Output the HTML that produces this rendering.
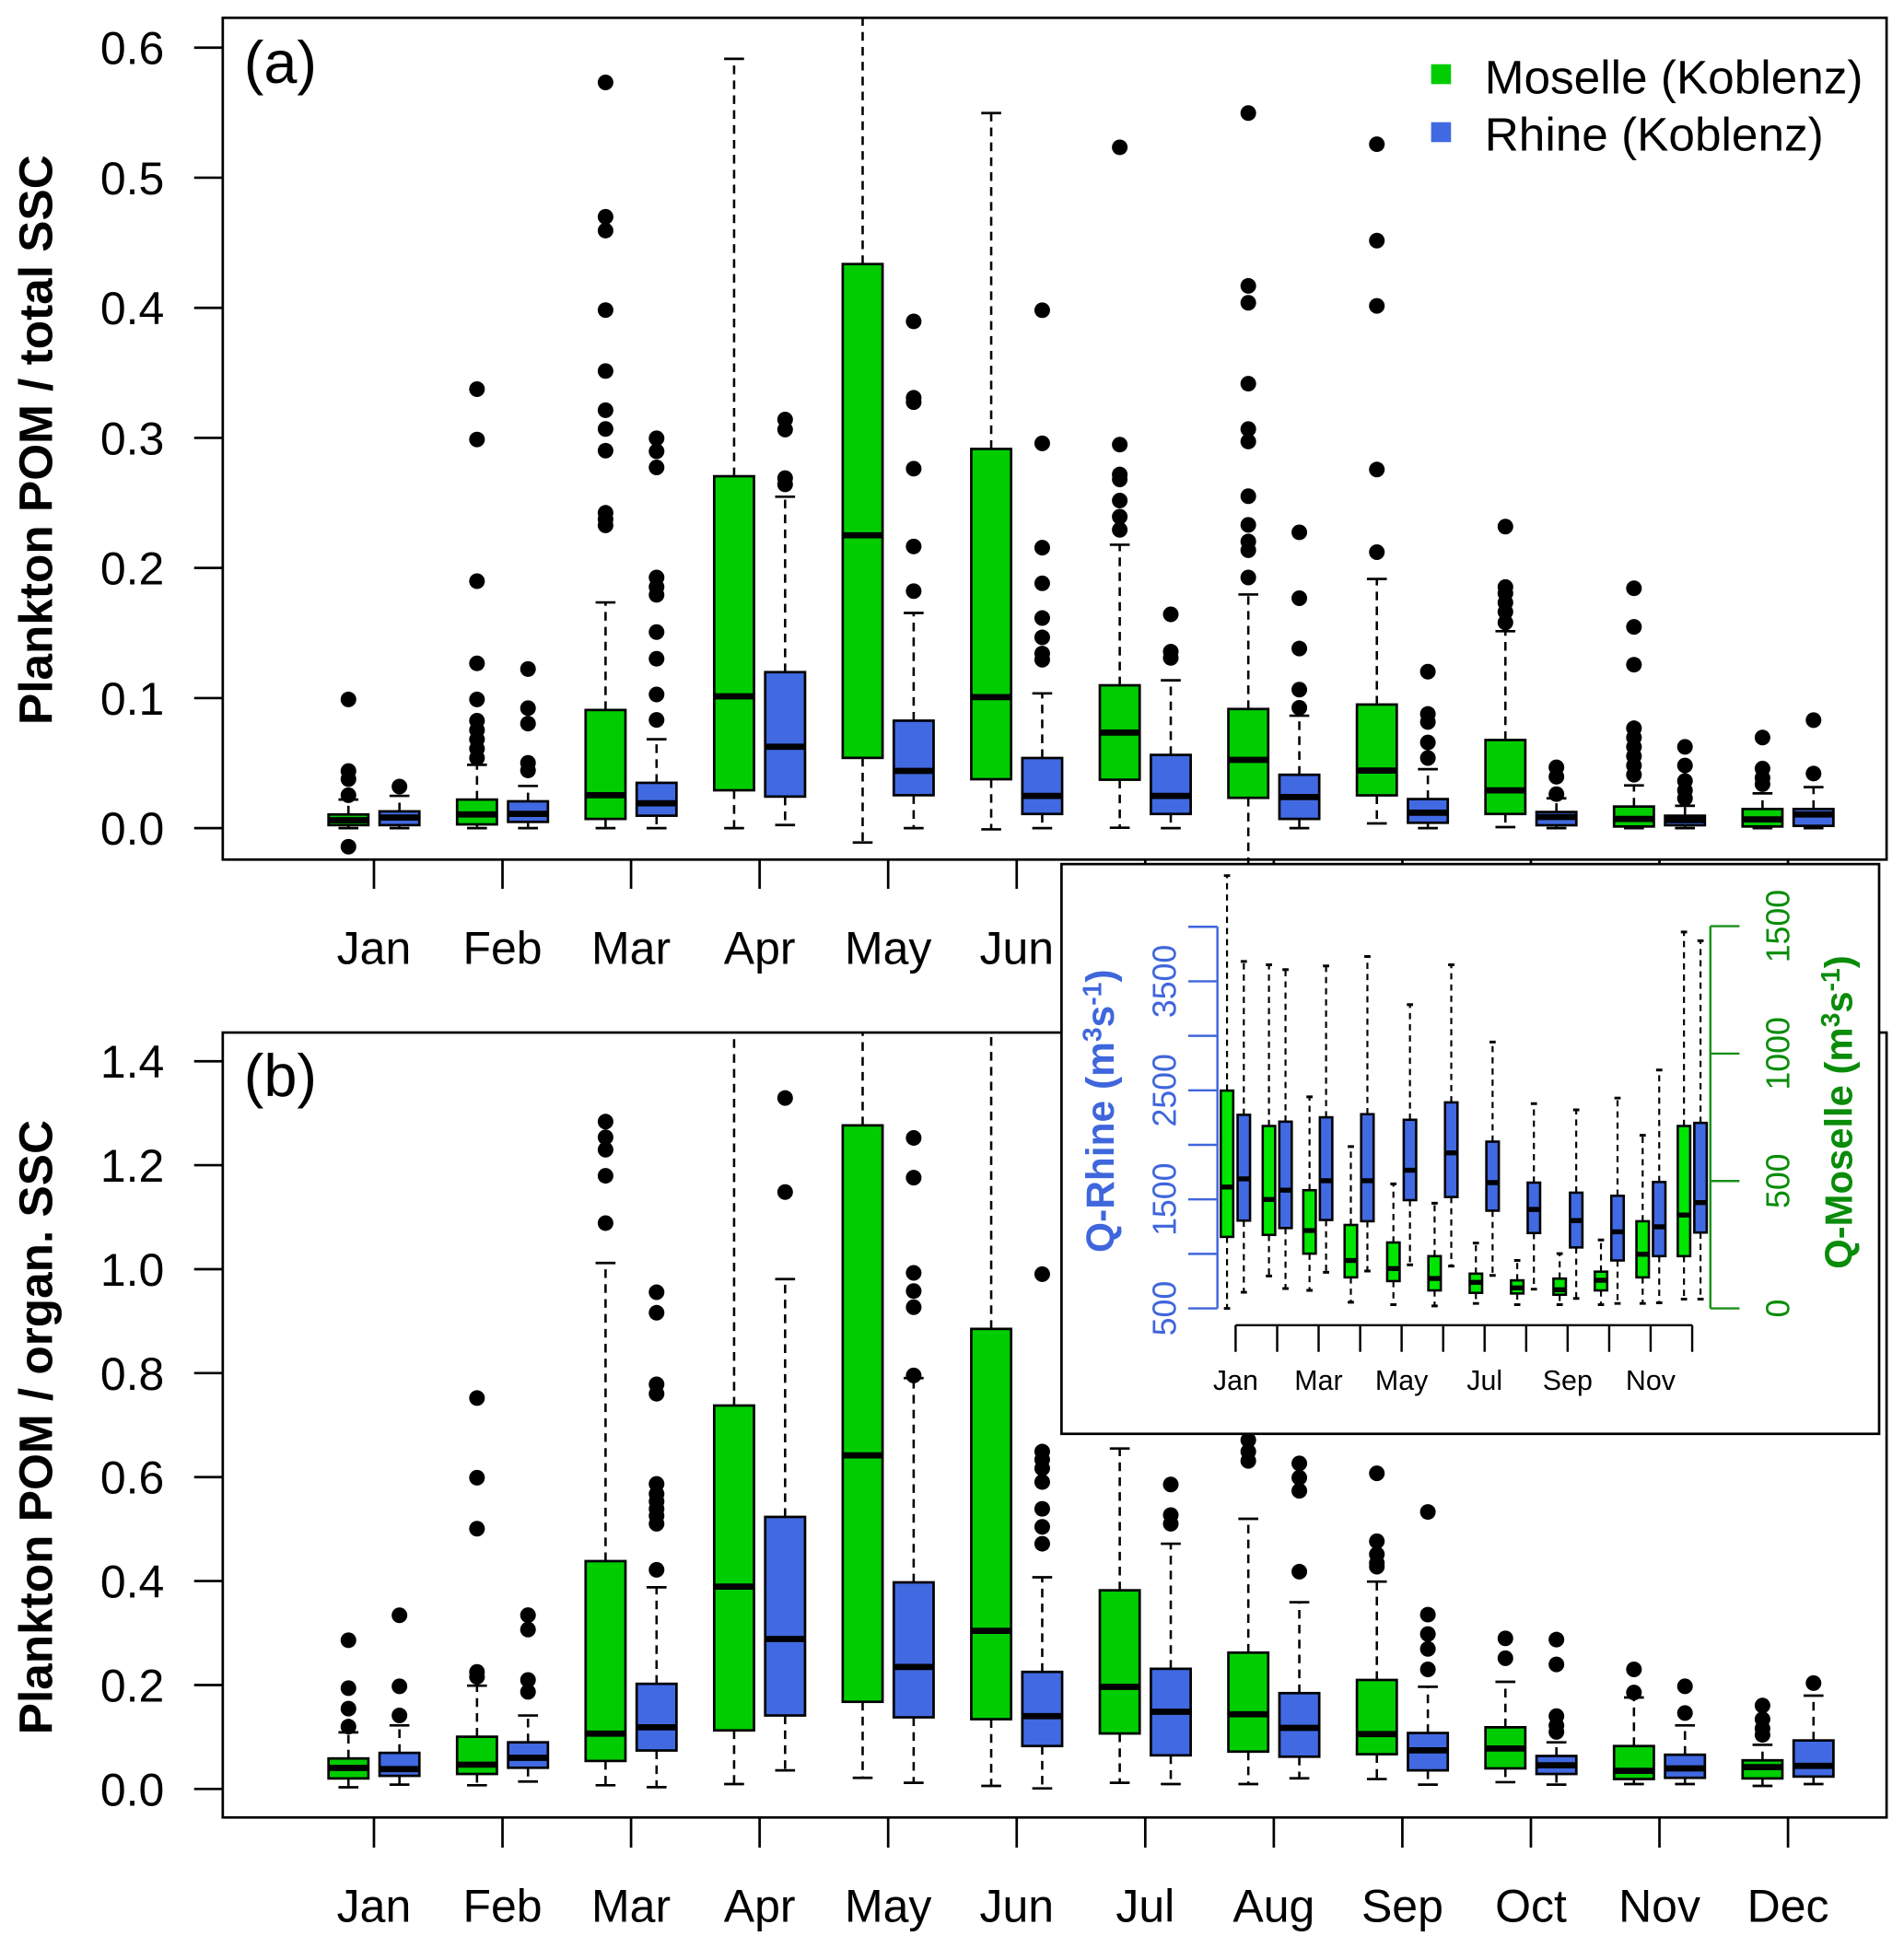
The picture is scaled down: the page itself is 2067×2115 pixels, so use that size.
<!DOCTYPE html>
<html><head><meta charset="utf-8"><style>
html,body{margin:0;padding:0;background:#fff}
svg{display:block}
text{font-family:"Liberation Sans",Arial,sans-serif}
.w{stroke:#000;stroke-width:1.9;stroke-dasharray:7 5;fill:none}
.c{stroke:#000;stroke-width:2;fill:none}
.g{fill:#00CD00;stroke:#000;stroke-width:2}
.b{fill:#4169E1;stroke:#000;stroke-width:2}
.m{stroke:#000;stroke-width:5;fill:none}
.iw{stroke:#000;stroke-width:1.6;stroke-dasharray:5 4;fill:none}
.ic{stroke:#000;stroke-width:2.2;fill:none}
.ig{fill:#00E600;stroke:#000;stroke-width:1.9}
.ib{fill:#4169E1;stroke:#000;stroke-width:1.9}
.im{stroke:#000;stroke-width:4;fill:none}
.ax{stroke:#000;stroke-width:2;fill:none}
</style></head><body>
<svg width="2067" height="2115" viewBox="0 0 1530 1565.5" xmlns="http://www.w3.org/2000/svg">
<rect x="0" y="0" width="1530" height="1565.5" fill="#fff"/>

<!-- ================= PANEL A ================= -->
<rect x="179" y="14.3" width="1337" height="676.5" fill="none" stroke="#000" stroke-width="2"/>
<path class="ax" d="M156 665.5H179M156 561H179M156 456.4H179M156 351.9H179M156 247.4H179M156 142.8H179M156 38.3H179"/>
<g font-size="37" text-anchor="end" fill="#000">
<text x="132" y="678.8">0.0</text><text x="132" y="574.3">0.1</text><text x="132" y="469.7">0.2</text><text x="132" y="365.2">0.3</text><text x="132" y="260.7">0.4</text><text x="132" y="156.1">0.5</text><text x="132" y="51.6">0.6</text>
</g>
<path class="ax" d="M300.5 690.8V714.3M403.8 690.8V714.3M507.1 690.8V714.3M610.4 690.8V714.3M713.7 690.8V714.3M817 690.8V714.3M920.3 690.8V714.3M1023.6 690.8V714.3M1126.9 690.8V714.3M1230.2 690.8V714.3M1333.5 690.8V714.3M1436.8 690.8V714.3"/>
<g font-size="37" text-anchor="middle" fill="#000">
<text x="300.5" y="774.7">Jan</text><text x="403.8" y="774.7">Feb</text><text x="507.1" y="774.7">Mar</text><text x="610.4" y="774.7">Apr</text><text x="713.7" y="774.7">May</text><text x="817" y="774.7">Jun</text><text x="920.3" y="774.7">Jul</text><text x="1023.6" y="774.7">Aug</text><text x="1126.9" y="774.7">Sep</text><text x="1230.2" y="774.7">Oct</text><text x="1333.5" y="774.7">Nov</text><text x="1436.8" y="774.7">Dec</text>
</g>
<text transform="translate(42,353.5) rotate(-90)" text-anchor="middle" font-size="38" font-weight="bold">Plankton POM / total SSC</text>
<text x="196" y="66.6" font-size="48">(a)</text>

<!-- legend -->
<rect x="1150" y="51.6" width="16" height="16" fill="#00CD00"/>
<rect x="1150" y="98.2" width="16" height="16" fill="#4169E1"/>
<text x="1193" y="75" font-size="38">Moselle (Koblenz)</text>
<text x="1193" y="121" font-size="38">Rhine (Koblenz)</text>

<g transform="matrix(1 0 0 0.99714 0 0.41)">
<path class="w" d="M280 656V644M280 664.6V667
M321 653.5V641M321 664.6V667
M383.3 644V616M383.3 664V667
M424.3 645.4V633M424.3 662V667
M486.6 571.8V485.1M486.6 659.6V667
M527.6 630.5V595.4M527.6 657V667
M589.9 383.4V47M589.9 636.5V667
M630.9 541.3V399.9M630.9 641.6V664.5
M693.2 212.4V14M693.2 610.4V678.6
M734.2 580.4V493.6M734.2 640.5V667
M796.5 361.4V90.7M796.5 627.6V668
M837.5 610.5V558.4M837.5 655.6V667
M899.8 551.9V438.6M899.8 628V666.7
M940.8 608V547.9M940.8 655.6V667
M1003.1 571V478.7M1003.1 642.6V697
M1044.1 624V576.4M1044.1 659.6V667
M1106.4 567.4V466.2M1106.4 640.6V663.2
M1147.4 643.6V619.5M1147.4 662.7V667
M1209.7 596V508.3M1209.7 655.6V666.2
M1250.7 654V643M1250.7 664.7V667
M1313 649.6V632.6M1313 665.7V667
M1354 657V649M1354 664.7V667
M1416.3 651.6V639M1416.3 665.7V667
M1457.3 651.6V634M1457.3 665.2V667"/>
<path class="c" d="M272 644h16M272 667h16M313 641h16M313 667h16M375.3 616h16M375.3 667h16M416.3 633h16M416.3 667h16M478.6 485.1h16M478.6 667h16M519.6 595.4h16M519.6 667h16M581.9 47h16M581.9 667h16M622.9 399.9h16M622.9 664.5h16M685.2 678.6h16M726.2 493.6h16M726.2 667h16M788.5 90.7h16M788.5 668h16M829.5 558.4h16M829.5 667h16M891.8 438.6h16M891.8 666.7h16M932.8 547.9h16M932.8 667h16M995.1 478.7h16M1036.1 576.4h16M1036.1 667h16M1098.4 466.2h16M1098.4 663.2h16M1139.4 619.5h16M1139.4 667h16M1201.7 508.3h16M1201.7 666.2h16M1242.7 643h16M1242.7 667h16M1305 632.6h16M1305 667h16M1346 649h16M1346 667h16M1408.3 639h16M1408.3 667h16M1449.3 634h16M1449.3 667h16"/>
<rect class="g" x="264" y="656" width="32" height="8.6"/>
<rect class="b" x="305" y="653.5" width="32" height="11.1"/>
<rect class="g" x="367.3" y="644" width="32" height="20"/>
<rect class="b" x="408.3" y="645.4" width="32" height="16.6"/>
<rect class="g" x="470.6" y="571.8" width="32" height="87.8"/>
<rect class="b" x="511.6" y="630.5" width="32" height="26.5"/>
<rect class="g" x="573.9" y="383.4" width="32" height="253.1"/>
<rect class="b" x="614.9" y="541.3" width="32" height="100.3"/>
<rect class="g" x="677.2" y="212.4" width="32" height="398"/>
<rect class="b" x="718.2" y="580.4" width="32" height="60.1"/>
<rect class="g" x="780.5" y="361.4" width="32" height="266.2"/>
<rect class="b" x="821.5" y="610.5" width="32" height="45.1"/>
<rect class="g" x="883.8" y="551.9" width="32" height="76.1"/>
<rect class="b" x="924.8" y="608" width="32" height="47.6"/>
<rect class="g" x="987.1" y="571" width="32" height="71.6"/>
<rect class="b" x="1028.1" y="624" width="32" height="35.6"/>
<rect class="g" x="1090.4" y="567.4" width="32" height="73.2"/>
<rect class="b" x="1131.4" y="643.6" width="32" height="19.1"/>
<rect class="g" x="1193.7" y="596" width="32" height="59.6"/>
<rect class="b" x="1234.7" y="654" width="32" height="10.7"/>
<rect class="g" x="1297" y="649.6" width="32" height="16.1"/>
<rect class="b" x="1338" y="657" width="32" height="7.7"/>
<rect class="g" x="1400.3" y="651.6" width="32" height="14.1"/>
<rect class="b" x="1441.3" y="651.6" width="32" height="13.6"/>
<path class="m" d="M264 660.6h32M305 658.5h32M367.3 656h32M408.3 655.5h32M470.6 640.5h32M511.6 647h32M573.9 560.8h32M614.9 601.4h32M677.2 431h32M718.2 620.9h32M780.5 561.4h32M821.5 641h32M883.8 590h32M924.8 641h32M987.1 612h32M1028.1 642h32M1090.4 620.6h32M1131.4 654.6h32M1193.7 636.6h32M1234.7 658h32M1297 659.6h32M1338 660.5h32M1400.3 660h32M1441.3 656h32"/>
<g fill="#000">
<circle cx="280" cy="563.3" r="6.3"/><circle cx="280" cy="621" r="6.3"/><circle cx="280" cy="627.5" r="6.3"/><circle cx="280" cy="640.5" r="6.3"/><circle cx="280" cy="682" r="6.3"/>
<circle cx="321" cy="633.5" r="6.3"/>
<circle cx="383.3" cy="313.2" r="6.3"/><circle cx="383.3" cy="353.8" r="6.3"/><circle cx="383.3" cy="468" r="6.3"/><circle cx="383.3" cy="534.2" r="6.3"/><circle cx="383.3" cy="563.3" r="6.3"/><circle cx="383.3" cy="580.4" r="6.3"/><circle cx="383.3" cy="588" r="6.3"/><circle cx="383.3" cy="595.5" r="6.3"/><circle cx="383.3" cy="603" r="6.3"/><circle cx="383.3" cy="610.5" r="6.3"/>
<circle cx="424.3" cy="538.8" r="6.3"/><circle cx="424.3" cy="570.3" r="6.3"/><circle cx="424.3" cy="582.8" r="6.3"/><circle cx="424.3" cy="614.4" r="6.3"/><circle cx="424.3" cy="620.5" r="6.3"/>
<circle cx="486.6" cy="66" r="6.3"/><circle cx="486.6" cy="174.3" r="6.3"/><circle cx="486.6" cy="185.4" r="6.3"/><circle cx="486.6" cy="249.5" r="6.3"/><circle cx="486.6" cy="298.6" r="6.3"/><circle cx="486.6" cy="330.2" r="6.3"/><circle cx="486.6" cy="345.3" r="6.3"/><circle cx="486.6" cy="362.8" r="6.3"/><circle cx="486.6" cy="412.9" r="6.3"/><circle cx="486.6" cy="418" r="6.3"/><circle cx="486.6" cy="423" r="6.3"/>
<circle cx="527.6" cy="352.8" r="6.3"/><circle cx="527.6" cy="363.3" r="6.3"/><circle cx="527.6" cy="376.3" r="6.3"/><circle cx="527.6" cy="465" r="6.3"/><circle cx="527.6" cy="472.6" r="6.3"/><circle cx="527.6" cy="479" r="6.3"/><circle cx="527.6" cy="509" r="6.3"/><circle cx="527.6" cy="530.5" r="6.3"/><circle cx="527.6" cy="559.3" r="6.3"/><circle cx="527.6" cy="579.8" r="6.3"/>
<circle cx="630.9" cy="337.7" r="6.3"/><circle cx="630.9" cy="345.8" r="6.3"/><circle cx="630.9" cy="384.9" r="6.3"/><circle cx="630.9" cy="390" r="6.3"/>
<circle cx="734.2" cy="258.6" r="6.3"/><circle cx="734.2" cy="320.2" r="6.3"/><circle cx="734.2" cy="323.7" r="6.3"/><circle cx="734.2" cy="377.3" r="6.3"/><circle cx="734.2" cy="440" r="6.3"/><circle cx="734.2" cy="476" r="6.3"/>
<circle cx="837.5" cy="249.6" r="6.3"/><circle cx="837.5" cy="356.9" r="6.3"/><circle cx="837.5" cy="441" r="6.3"/><circle cx="837.5" cy="469.7" r="6.3"/><circle cx="837.5" cy="497.7" r="6.3"/><circle cx="837.5" cy="513.3" r="6.3"/><circle cx="837.5" cy="526.3" r="6.3"/><circle cx="837.5" cy="531.3" r="6.3"/>
<circle cx="899.8" cy="118.3" r="6.3"/><circle cx="899.8" cy="357.9" r="6.3"/><circle cx="899.8" cy="382" r="6.3"/><circle cx="899.8" cy="386" r="6.3"/><circle cx="899.8" cy="403" r="6.3"/><circle cx="899.8" cy="416" r="6.3"/><circle cx="899.8" cy="426.6" r="6.3"/>
<circle cx="940.8" cy="494.7" r="6.3"/><circle cx="940.8" cy="524.8" r="6.3"/><circle cx="940.8" cy="529.8" r="6.3"/>
<circle cx="1003.1" cy="90.7" r="6.3"/><circle cx="1003.1" cy="230" r="6.3"/><circle cx="1003.1" cy="243.6" r="6.3"/><circle cx="1003.1" cy="308.8" r="6.3"/><circle cx="1003.1" cy="345.4" r="6.3"/><circle cx="1003.1" cy="355.4" r="6.3"/><circle cx="1003.1" cy="399.5" r="6.3"/><circle cx="1003.1" cy="422.6" r="6.3"/><circle cx="1003.1" cy="436" r="6.3"/><circle cx="1003.1" cy="443" r="6.3"/><circle cx="1003.1" cy="465" r="6.3"/>
<circle cx="1044.1" cy="428.6" r="6.3"/><circle cx="1044.1" cy="481.7" r="6.3"/><circle cx="1044.1" cy="522.3" r="6.3"/><circle cx="1044.1" cy="555.4" r="6.3"/><circle cx="1044.1" cy="570" r="6.3"/>
<circle cx="1106.4" cy="115.8" r="6.3"/><circle cx="1106.4" cy="193.5" r="6.3"/><circle cx="1106.4" cy="246.1" r="6.3"/><circle cx="1106.4" cy="378" r="6.3"/><circle cx="1106.4" cy="444.6" r="6.3"/>
<circle cx="1147.4" cy="540.9" r="6.3"/><circle cx="1147.4" cy="575" r="6.3"/><circle cx="1147.4" cy="581.5" r="6.3"/><circle cx="1147.4" cy="598" r="6.3"/><circle cx="1147.4" cy="610.5" r="6.3"/>
<circle cx="1209.7" cy="424" r="6.3"/><circle cx="1209.7" cy="472.7" r="6.3"/><circle cx="1209.7" cy="477.7" r="6.3"/><circle cx="1209.7" cy="485.2" r="6.3"/><circle cx="1209.7" cy="492.7" r="6.3"/><circle cx="1209.7" cy="501.3" r="6.3"/>
<circle cx="1250.7" cy="618" r="6.3"/><circle cx="1250.7" cy="625.6" r="6.3"/><circle cx="1250.7" cy="639.6" r="6.3"/>
<circle cx="1313" cy="473.7" r="6.3"/><circle cx="1313" cy="504.8" r="6.3"/><circle cx="1313" cy="535.3" r="6.3"/><circle cx="1313" cy="586.5" r="6.3"/><circle cx="1313" cy="594" r="6.3"/><circle cx="1313" cy="601.5" r="6.3"/><circle cx="1313" cy="609" r="6.3"/><circle cx="1313" cy="616.5" r="6.3"/><circle cx="1313" cy="624" r="6.3"/>
<circle cx="1354" cy="601.5" r="6.3"/><circle cx="1354" cy="616.5" r="6.3"/><circle cx="1354" cy="629" r="6.3"/><circle cx="1354" cy="636.6" r="6.3"/><circle cx="1354" cy="643" r="6.3"/>
<circle cx="1416.3" cy="594" r="6.3"/><circle cx="1416.3" cy="619" r="6.3"/><circle cx="1416.3" cy="626.6" r="6.3"/><circle cx="1416.3" cy="631.6" r="6.3"/>
<circle cx="1457.3" cy="580" r="6.3"/><circle cx="1457.3" cy="623" r="6.3"/>
</g>
</g>

<!-- ================= PANEL B ================= -->
<rect x="179" y="829.8" width="1337" height="630.8" fill="none" stroke="#000" stroke-width="2"/>
<path class="ax" d="M156 1437.7H179M156 1354.2H179M156 1270.6H179M156 1187.1H179M156 1103.5H179M156 1020H179M156 936.4H179M156 852.9H179"/>
<g font-size="37" text-anchor="end" fill="#000">
<text x="132" y="1451">0.0</text><text x="132" y="1367.5">0.2</text><text x="132" y="1283.9">0.4</text><text x="132" y="1200.4">0.6</text><text x="132" y="1116.8">0.8</text><text x="132" y="1033.3">1.0</text><text x="132" y="949.7">1.2</text><text x="132" y="866.2">1.4</text>
</g>
<path class="ax" d="M300.5 1460.6V1484.8M403.8 1460.6V1484.8M507.1 1460.6V1484.8M610.4 1460.6V1484.8M713.7 1460.6V1484.8M817 1460.6V1484.8M920.3 1460.6V1484.8M1023.6 1460.6V1484.8M1126.9 1460.6V1484.8M1230.2 1460.6V1484.8M1333.5 1460.6V1484.8M1436.8 1460.6V1484.8"/>
<g font-size="37" text-anchor="middle" fill="#000">
<text x="300.5" y="1544.5">Jan</text><text x="403.8" y="1544.5">Feb</text><text x="507.1" y="1544.5">Mar</text><text x="610.4" y="1544.5">Apr</text><text x="713.7" y="1544.5">May</text><text x="817" y="1544.5">Jun</text><text x="920.3" y="1544.5">Jul</text><text x="1023.6" y="1544.5">Aug</text><text x="1126.9" y="1544.5">Sep</text><text x="1230.2" y="1544.5">Oct</text><text x="1333.5" y="1544.5">Nov</text><text x="1436.8" y="1544.5">Dec</text>
</g>
<text transform="translate(42,1147) rotate(-90)" text-anchor="middle" font-size="38" font-weight="bold">Plankton POM / organ. SSC</text>
<text x="196" y="880.8" font-size="48">(b)</text>

<g transform="matrix(1 0 0 0.998 0 -0.39)">
<path class="w" d="M280 1416.4V1395.4M280 1432.5V1439.6
M321 1411.9V1389.8M321 1430.4V1437.5
M383.3 1398.9V1357.8M383.3 1428.9V1438
M424.3 1403.4V1381.8M424.3 1423.9V1435
M486.6 1257.5V1017.4M486.6 1418.4V1438
M527.6 1356.3V1278.6M527.6 1410V1439.5
M589.9 1132.2V832M589.9 1393.8V1437
M630.9 1221.9V1030.4M630.9 1381.8V1426
M693.2 906.6V832M693.2 1370.8V1432
M734.2 1274.6V1110.1M734.2 1383.3V1436
M796.5 1070.5V832M796.5 1384.8V1438.5
M837.5 1346.7V1270.5M837.5 1406.4V1440.5
M899.8 1281V1166.8M899.8 1396.3V1436
M940.8 1344.2V1243.5M940.8 1413.9V1437
M1003.1 1331.2V1223.4M1003.1 1410.9V1437
M1044.1 1363.8V1290.6M1044.1 1415V1432.4
M1106.4 1353.2V1274M1106.4 1413V1433
M1147.4 1395.9V1358.7M1147.4 1426V1437.5
M1209.7 1391.3V1354.7M1209.7 1424.4V1435.5
M1250.7 1414.4V1403.4M1250.7 1428.9V1437.5
M1313 1406.4V1367.3M1313 1433V1437
M1354 1413.4V1389.8M1354 1432V1437
M1416.3 1417.9V1405.4M1416.3 1432.5V1438.5
M1457.3 1401.9V1365.8M1457.3 1431V1437"/>
<path class="c" d="M272 1395.4h16M272 1439.6h16M313 1389.8h16M313 1437.5h16M375.3 1357.8h16M375.3 1438h16M416.3 1381.8h16M416.3 1435h16M478.6 1017.4h16M478.6 1438h16M519.6 1278.6h16M519.6 1439.5h16M581.9 1437h16M622.9 1030.4h16M622.9 1426h16M685.2 1432h16M726.2 1110.1h16M726.2 1436h16M788.5 1438.5h16M829.5 1270.5h16M829.5 1440.5h16M891.8 1166.8h16M891.8 1436h16M932.8 1243.5h16M932.8 1437h16M995.1 1223.4h16M995.1 1437h16M1036.1 1290.6h16M1036.1 1432.4h16M1098.4 1274h16M1098.4 1433h16M1139.4 1358.7h16M1139.4 1437.5h16M1201.7 1354.7h16M1201.7 1435.5h16M1242.7 1403.4h16M1242.7 1437.5h16M1305 1367.3h16M1305 1437h16M1346 1389.8h16M1346 1437h16M1408.3 1405.4h16M1408.3 1438.5h16M1449.3 1365.8h16M1449.3 1437h16"/>
<rect class="g" x="264" y="1416.4" width="32" height="16.1"/>
<rect class="b" x="305" y="1411.9" width="32" height="18.5"/>
<rect class="g" x="367.3" y="1398.9" width="32" height="30"/>
<rect class="b" x="408.3" y="1403.4" width="32" height="20.5"/>
<rect class="g" x="470.6" y="1257.5" width="32" height="160.9"/>
<rect class="b" x="511.6" y="1356.3" width="32" height="53.7"/>
<rect class="g" x="573.9" y="1132.2" width="32" height="261.6"/>
<rect class="b" x="614.9" y="1221.9" width="32" height="159.9"/>
<rect class="g" x="677.2" y="906.6" width="32" height="464.2"/>
<rect class="b" x="718.2" y="1274.6" width="32" height="108.7"/>
<rect class="g" x="780.5" y="1070.5" width="32" height="314.3"/>
<rect class="b" x="821.5" y="1346.7" width="32" height="59.7"/>
<rect class="g" x="883.8" y="1281" width="32" height="115.3"/>
<rect class="b" x="924.8" y="1344.2" width="32" height="69.7"/>
<rect class="g" x="987.1" y="1331.2" width="32" height="79.7"/>
<rect class="b" x="1028.1" y="1363.8" width="32" height="51.2"/>
<rect class="g" x="1090.4" y="1353.2" width="32" height="59.8"/>
<rect class="b" x="1131.4" y="1395.9" width="32" height="30.1"/>
<rect class="g" x="1193.7" y="1391.3" width="32" height="33.1"/>
<rect class="b" x="1234.7" y="1414.4" width="32" height="14.5"/>
<rect class="g" x="1297" y="1406.4" width="32" height="26.6"/>
<rect class="b" x="1338" y="1413.4" width="32" height="18.6"/>
<rect class="g" x="1400.3" y="1417.9" width="32" height="14.6"/>
<rect class="b" x="1441.3" y="1401.9" width="32" height="29.1"/>
<path class="m" d="M264 1424h32M305 1425h32M367.3 1421.4h32M408.3 1415.9h32M470.6 1396.4h32M511.6 1391.3h32M573.9 1278h32M614.9 1320.2h32M677.2 1172.3h32M718.2 1342.7h32M780.5 1313.6h32M821.5 1382.3h32M883.8 1358.8h32M924.8 1378.8h32M987.1 1380.8h32M1028.1 1391.8h32M1090.4 1396.8h32M1131.4 1409.9h32M1193.7 1408.4h32M1234.7 1421.9h32M1297 1426.4h32M1338 1424.4h32M1400.3 1423.4h32M1441.3 1422.4h32"/>
<g fill="#000">
<circle cx="280" cy="1321.2" r="6.3"/><circle cx="280" cy="1359.8" r="6.3"/><circle cx="280" cy="1376.3" r="6.3"/><circle cx="280" cy="1390.8" r="6.3"/>
<circle cx="321" cy="1301.1" r="6.3"/><circle cx="321" cy="1358.3" r="6.3"/><circle cx="321" cy="1381.8" r="6.3"/>
<circle cx="383.3" cy="1126.2" r="6.3"/><circle cx="383.3" cy="1190.3" r="6.3"/><circle cx="383.3" cy="1231.4" r="6.3"/><circle cx="383.3" cy="1346.7" r="6.3"/><circle cx="383.3" cy="1350.7" r="6.3"/>
<circle cx="424.3" cy="1301" r="6.3"/><circle cx="424.3" cy="1312.6" r="6.3"/><circle cx="424.3" cy="1353.2" r="6.3"/><circle cx="424.3" cy="1362.8" r="6.3"/>
<circle cx="486.6" cy="903.6" r="6.3"/><circle cx="486.6" cy="916.2" r="6.3"/><circle cx="486.6" cy="926.2" r="6.3"/><circle cx="486.6" cy="947.2" r="6.3"/><circle cx="486.6" cy="985.3" r="6.3"/>
<circle cx="527.6" cy="1041" r="6.3"/><circle cx="527.6" cy="1057.5" r="6.3"/><circle cx="527.6" cy="1115.1" r="6.3"/><circle cx="527.6" cy="1122.7" r="6.3"/><circle cx="527.6" cy="1195.3" r="6.3"/><circle cx="527.6" cy="1203.4" r="6.3"/><circle cx="527.6" cy="1209.4" r="6.3"/><circle cx="527.6" cy="1215.4" r="6.3"/><circle cx="527.6" cy="1221" r="6.3"/><circle cx="527.6" cy="1227.4" r="6.3"/><circle cx="527.6" cy="1264.5" r="6.3"/>
<circle cx="630.9" cy="884.6" r="6.3"/><circle cx="630.9" cy="960.3" r="6.3"/>
<circle cx="734.2" cy="916.7" r="6.3"/><circle cx="734.2" cy="948.7" r="6.3"/><circle cx="734.2" cy="1025.4" r="6.3"/><circle cx="734.2" cy="1040" r="6.3"/><circle cx="734.2" cy="1053" r="6.3"/><circle cx="734.2" cy="1108" r="6.3"/>
<circle cx="837.5" cy="1026.4" r="6.3"/><circle cx="837.5" cy="1169.3" r="6.3"/><circle cx="837.5" cy="1175.8" r="6.3"/><circle cx="837.5" cy="1182.8" r="6.3"/><circle cx="837.5" cy="1193.8" r="6.3"/><circle cx="837.5" cy="1215.4" r="6.3"/><circle cx="837.5" cy="1229.9" r="6.3"/><circle cx="837.5" cy="1243.5" r="6.3"/>
<circle cx="940.8" cy="1195.8" r="6.3"/><circle cx="940.8" cy="1220.4" r="6.3"/><circle cx="940.8" cy="1227.4" r="6.3"/>
<circle cx="1003.1" cy="1130" r="6.3"/><circle cx="1003.1" cy="1145" r="6.3"/><circle cx="1003.1" cy="1160" r="6.3"/><circle cx="1003.1" cy="1169.3" r="6.3"/><circle cx="1003.1" cy="1176.8" r="6.3"/>
<circle cx="1044.1" cy="1178.8" r="6.3"/><circle cx="1044.1" cy="1190.3" r="6.3"/><circle cx="1044.1" cy="1200.9" r="6.3"/><circle cx="1044.1" cy="1266" r="6.3"/>
<circle cx="1106.4" cy="1186.8" r="6.3"/><circle cx="1106.4" cy="1241.5" r="6.3"/><circle cx="1106.4" cy="1252" r="6.3"/><circle cx="1106.4" cy="1259" r="6.3"/><circle cx="1106.4" cy="1262" r="6.3"/>
<circle cx="1147.4" cy="1217.9" r="6.3"/><circle cx="1147.4" cy="1300.6" r="6.3"/><circle cx="1147.4" cy="1316.2" r="6.3"/><circle cx="1147.4" cy="1328.2" r="6.3"/><circle cx="1147.4" cy="1344.7" r="6.3"/>
<circle cx="1209.7" cy="1319.7" r="6.3"/><circle cx="1209.7" cy="1335.7" r="6.3"/>
<circle cx="1250.7" cy="1320.7" r="6.3"/><circle cx="1250.7" cy="1340.7" r="6.3"/><circle cx="1250.7" cy="1382.3" r="6.3"/><circle cx="1250.7" cy="1389.9" r="6.3"/><circle cx="1250.7" cy="1395" r="6.3"/>
<circle cx="1313" cy="1344.7" r="6.3"/><circle cx="1313" cy="1363.3" r="6.3"/>
<circle cx="1354" cy="1358.3" r="6.3"/><circle cx="1354" cy="1379.8" r="6.3"/>
<circle cx="1416.3" cy="1373.8" r="6.3"/><circle cx="1416.3" cy="1384.8" r="6.3"/><circle cx="1416.3" cy="1392.3" r="6.3"/><circle cx="1416.3" cy="1397.4" r="6.3"/>
<circle cx="1457.3" cy="1355.7" r="6.3"/>
</g>
</g>

<!-- ================= INSET ================= -->
<g transform="matrix(1 0 0 0.998 0 -0.39)">
<rect x="853" y="696.2" width="657" height="458.8" fill="#fff" stroke="#000" stroke-width="2"/>
<path d="M978.3 1054V746.7M954.8 1054H978.3M954.8 1010.1H978.3M954.8 966.2H978.3M954.8 922.3H978.3M954.8 878.4H978.3M954.8 834.5H978.3M954.8 790.6H978.3M954.8 746.7H978.3" stroke="#3F66DC" stroke-width="1.8" fill="none"/>
<g font-size="26.5" fill="#3F66DC" text-anchor="middle">
<text transform="translate(945,1054) rotate(-90)">500</text>
<text transform="translate(945,966.2) rotate(-90)">1500</text>
<text transform="translate(945,878.4) rotate(-90)">2500</text>
<text transform="translate(945,790.6) rotate(-90)">3500</text>
</g>
<text transform="translate(895,895) rotate(-90)" text-anchor="middle" font-size="31.5" font-weight="bold" fill="#3F66DC">Q-Rhine (m<tspan font-size="21" dy="-10">3</tspan><tspan dy="10">s</tspan><tspan font-size="21" dy="-10">-1</tspan><tspan dy="10">)</tspan></text>
<path d="M1374.4 1054V746.2M1374.4 1054H1397.8M1374.4 951.4H1397.8M1374.4 848.8H1397.8M1374.4 746.2H1397.8" stroke="#1A8F1A" stroke-width="1.8" fill="none"/>
<g font-size="26.5" fill="#0A8C0A" text-anchor="middle">
<text transform="translate(1438,1054) rotate(-90)">0</text>
<text transform="translate(1438,951.4) rotate(-90)">500</text>
<text transform="translate(1438,848.8) rotate(-90)">1000</text>
<text transform="translate(1438,746.2) rotate(-90)">1500</text>
</g>
<text transform="translate(1488,896) rotate(-90)" text-anchor="middle" font-size="31" font-weight="bold" fill="#0A8C0A">Q-Moselle (m<tspan font-size="21" dy="-10">3</tspan><tspan dy="10">s</tspan><tspan font-size="21" dy="-10">-1</tspan><tspan dy="10">)</tspan></text>
<path d="M992.9 1067.5H1359.8M992.9 1067.5V1089M1026.3 1067.5V1089M1059.6 1067.5V1089M1093 1067.5V1089M1126.3 1067.5V1089M1159.7 1067.5V1089M1193 1067.5V1089M1226.4 1067.5V1089M1259.7 1067.5V1089M1293.1 1067.5V1089M1326.4 1067.5V1089M1359.8 1067.5V1089" stroke="#000" stroke-width="1.8" fill="none"/>
<g font-size="22.5" text-anchor="middle" fill="#000">
<text x="992.9" y="1119.6">Jan</text><text x="1059.6" y="1119.6">Mar</text><text x="1126.3" y="1119.6">May</text><text x="1193" y="1119.6">Jul</text><text x="1259.7" y="1119.6">Sep</text><text x="1326.4" y="1119.6">Nov</text>
</g>
<path class="iw" d="M986 878.6V705.5M986 996.4V1054
M999.5 898.1V774.6M999.5 983.3V1041
M1019.7 907.1V777.3M1019.7 994.8V1027.9
M1033 903.6V781.2M1033 989.3V1038
M1052.3 958.8V883.6M1052.3 1009.9V1039.5
M1065.6 900.1V778.2M1065.6 982.8V1024.9
M1085.5 986.8V923.7M1085.5 1029V1049
M1098.8 897.6V770.6M1098.8 983.8V1023.9
M1119.7 1000.9V953.7M1119.7 1032V1051
M1133 902.1V809.4M1133 966.8V1018.9
M1152.8 1011.9V969.3M1152.8 1039.5V1052
M1166.2 888.1V777.3M1166.2 964.3V1019.9
M1186 1026V1001.4M1186 1041.5V1050
M1199.4 919.7V839.5M1199.4 975.3V1027.4
M1219.2 1031.4V1015.4M1219.2 1042V1051
M1232.6 952.7V889.1M1232.6 993.3V1038.5
M1253.3 1030V1009.9M1253.3 1043V1051
M1266.6 960.8V894.1M1266.6 1004.9V1046
M1286.5 1024.4V998.9M1286.5 1039.5V1051
M1299.8 963.3V884.6M1299.8 1015.4V1050
M1320 983.8V914.6M1320 1029V1050
M1333.3 952.2V862M1333.3 1011.9V1049.5
M1353.2 907.1V750.9M1353.2 1011.9V1046.5
M1366.5 904.6V757.9M1366.5 992.9V1046.5"/>
<path class="ic" d="M983.5 705.5h5M983.5 1054h5M997 774.6h5M997 1041h5M1017.2 777.3h5M1017.2 1027.9h5M1030.5 781.2h5M1030.5 1038h5M1049.8 883.6h5M1049.8 1039.5h5M1063.1 778.2h5M1063.1 1024.9h5M1083 923.7h5M1083 1049h5M1096.3 770.6h5M1096.3 1023.9h5M1117.2 953.7h5M1117.2 1051h5M1130.5 809.4h5M1130.5 1018.9h5M1150.3 969.3h5M1150.3 1052h5M1163.7 777.3h5M1163.7 1019.9h5M1183.5 1001.4h5M1183.5 1050h5M1196.9 839.5h5M1196.9 1027.4h5M1216.7 1015.4h5M1216.7 1051h5M1230.1 889.1h5M1230.1 1038.5h5M1250.8 1009.9h5M1250.8 1051h5M1264.1 894.1h5M1264.1 1046h5M1284 998.9h5M1284 1051h5M1297.3 884.6h5M1297.3 1050h5M1317.5 914.6h5M1317.5 1050h5M1330.8 862h5M1330.8 1049.5h5M1350.7 750.9h5M1350.7 1046.5h5M1364 757.9h5M1364 1046.5h5"/>
<rect class="ig" x="981" y="878.6" width="10" height="117.8"/>
<rect class="ib" x="994.5" y="898.1" width="10" height="85.2"/>
<rect class="ig" x="1014.7" y="907.1" width="10" height="87.7"/>
<rect class="ib" x="1028" y="903.6" width="10" height="85.7"/>
<rect class="ig" x="1047.3" y="958.8" width="10" height="51.1"/>
<rect class="ib" x="1060.6" y="900.1" width="10" height="82.7"/>
<rect class="ig" x="1080.5" y="986.8" width="10" height="42.2"/>
<rect class="ib" x="1093.8" y="897.6" width="10" height="86.2"/>
<rect class="ig" x="1114.7" y="1000.9" width="10" height="31.1"/>
<rect class="ib" x="1128" y="902.1" width="10" height="64.7"/>
<rect class="ig" x="1147.8" y="1011.9" width="10" height="27.6"/>
<rect class="ib" x="1161.2" y="888.1" width="10" height="76.2"/>
<rect class="ig" x="1181" y="1026" width="10" height="15.5"/>
<rect class="ib" x="1194.4" y="919.7" width="10" height="55.6"/>
<rect class="ig" x="1214.2" y="1031.4" width="10" height="10.6"/>
<rect class="ib" x="1227.6" y="952.7" width="10" height="40.6"/>
<rect class="ig" x="1248.3" y="1030" width="10" height="13"/>
<rect class="ib" x="1261.6" y="960.8" width="10" height="44.1"/>
<rect class="ig" x="1281.5" y="1024.4" width="10" height="15.1"/>
<rect class="ib" x="1294.8" y="963.3" width="10" height="52.1"/>
<rect class="ig" x="1315" y="983.8" width="10" height="45.2"/>
<rect class="ib" x="1328.3" y="952.2" width="10" height="59.7"/>
<rect class="ig" x="1348.2" y="907.1" width="10" height="104.8"/>
<rect class="ib" x="1361.5" y="904.6" width="10" height="88.3"/>
<path class="im" d="M981 956.3h10M994.5 949.7h10M1014.7 966.3h10M1028 958.8h10M1047.3 991.3h10M1060.6 951.2h10M1080.5 1015.4h10M1093.8 951.2h10M1114.7 1021.9h10M1128 942.7h10M1147.8 1029.9h10M1161.2 928.7h10M1181 1033h10M1194.4 952.7h10M1214.2 1037.5h10M1227.6 974.3h10M1248.3 1039h10M1261.6 983.3h10M1281.5 1031.4h10M1294.8 992.3h10M1315 1010.4h10M1328.3 988.3h10M1348.2 978.8h10M1361.5 968.8h10"/>
</g>
</svg>
</body></html>
